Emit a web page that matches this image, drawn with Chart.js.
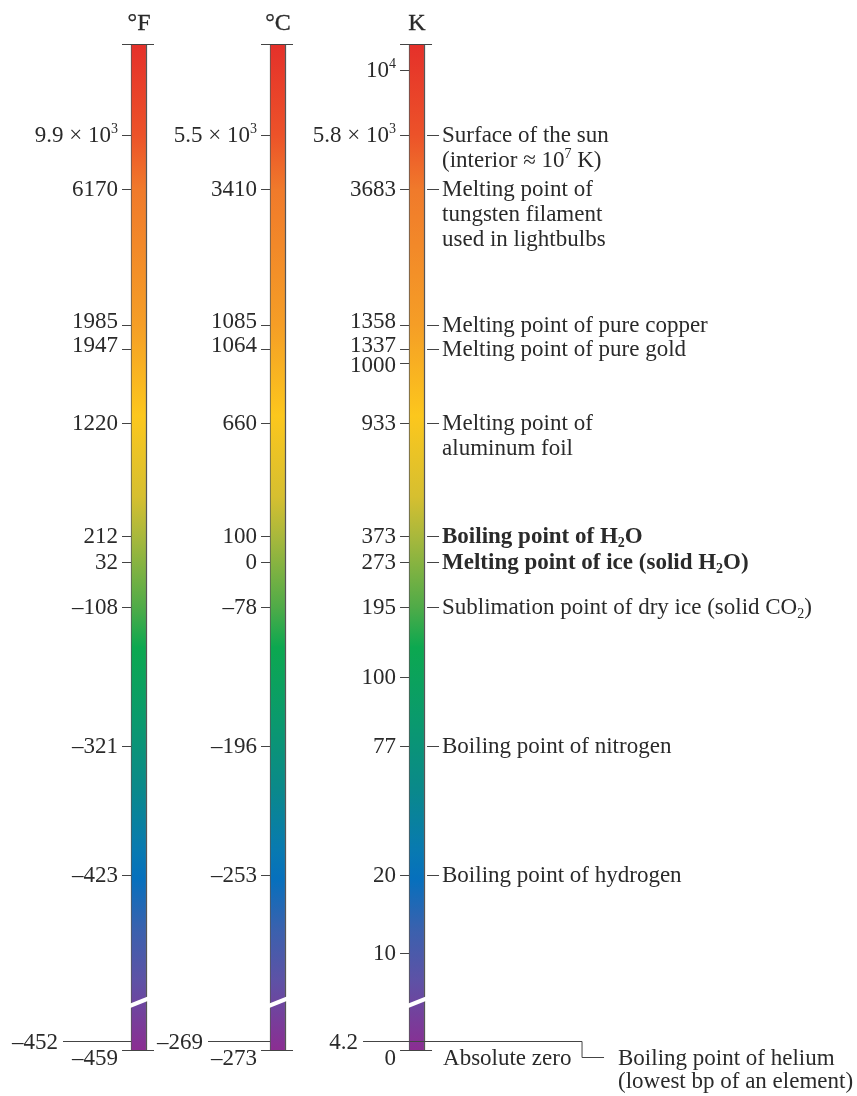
<!DOCTYPE html>
<html>
<head>
<meta charset="utf-8">
<script src="https://cdn.jsdelivr.net/npm/chart.js@4.4.1/dist/chart.umd.min.js"></script>
<style>
    html, body { margin: 0; padding: 0; background: #fff; }
    #wrap { width: 857px; height: 1096px; }
</style>
</head>
<body>
<div id="wrap"><canvas id="scaleChart" width="857" height="1096"></canvas></div>
<script>
// Columns (one bar each)
const scaleNames = ['°F', '°C', 'K'];

// Rows, top to bottom. '' = that bar has no tick on this row.
const kelvinLabels     = ['10^4', '5.8 × 10^3', '3683', '1358', '1337', '1000', '933', '373', '273', '195', '100', '77', '20', '10', '4.2', '0'];
const fahrenheitLabels = ['', '9.9 × 10^3', '6170', '1985', '1947', '', '1220', '212', '32', '–108', '', '–321', '–423', '', '–452', '–459'];
const celsiusLabels    = ['', '5.5 × 10^3', '3410', '1085', '1064', '', '660', '100', '0', '–78', '', '–196', '–253', '', '–269', '–273'];

// Where each row sits on the figure's compressed (non-linear) temperature axis, 0 = absolute zero
const rowLevel = [980, 915, 861, 725, 701, 687, 627, 514, 488, 443, 373, 304, 175, 97, 9, 0];
const barTop = 1006;     // top end of the bars on that axis
const breakLevel = 50;   // axis break drawn near the bottom

// Notes to the right of the K bar (same rows)
const notes = [
    null,
    ['Surface of the sun', '(interior ≈ 10^7 K)'],
    ['Melting point of', 'tungsten filament', 'used in lightbulbs'],
    ['Melting point of pure copper'],
    ['Melting point of pure gold'],
    null,
    ['Melting point of', 'aluminum foil'],
    ['Boiling point of H_2O'],
    ['Melting point of ice (solid H_2O)'],
    ['Sublimation point of dry ice (solid CO_2)'],
    null,
    ['Boiling point of nitrogen'],
    ['Boiling point of hydrogen'],
    null,
    ['Boiling point of helium', '(lowest bp of an element)'],
    ['Absolute zero']
];
const boldRows = [7, 8];
const HELIUM_ROW = 14;
const ZERO_ROW = 15;

// Styling
const FONT = '"Liberation Serif", "DejaVu Serif", serif';
const INK = '#2a2a2a';
const RULE = '#444';
const leaderLength = [68, 62, 46]; // helium leader length left of each bar
const labelNudge = { 3: -4, 4: -4, 5: 2 }; // crowded rows near 1000 K
const gradientStops = [
    [0.00, '#e5302a'], [0.09, '#ec5229'], [0.145, '#f07a2b'], [0.28, '#f59e26'],
    [0.37, '#fcc71d'], [0.45, '#d6bf30'], [0.49, '#a8b83c'], [0.56, '#4fab48'],
    [0.60, '#0ca850'], [0.67, '#0a9a6c'], [0.74, '#0a898a'], [0.80, '#087ab0'],
    [0.83, '#0670bd'], [0.88, '#3a61ae'], [0.93, '#5d52a6'], [1.00, '#8b2e92']
];

function splitRuns(str) {
    const runs = [];
    const re = /([\^_])(\S)/g;
    let last = 0, m;
    while ((m = re.exec(str))) {
        if (m.index > last) runs.push({ t: str.slice(last, m.index), k: 'n' });
        runs.push({ t: m[2], k: m[1] === '^' ? 'sup' : 'sub' });
        last = re.lastIndex;
    }
    if (last < str.length) runs.push({ t: str.slice(last), k: 'n' });
    return runs;
}

function drawText(ctx, str, x, y, align, opts = {}) {
    const size = opts.size || 23;
    const weight = opts.bold ? 'bold ' : '';
    const small = Math.round(size * 0.62);
    const runs = splitRuns(str);
    const fontFor = r => weight + (r.k === 'n' ? size : small) + 'px ' + FONT;
    let total = 0;
    runs.forEach(r => { ctx.font = fontFor(r); r.w = ctx.measureText(r.t).width; total += r.w; });
    let cx = align === 'right' ? x - total : align === 'center' ? x - total / 2 : x;
    const base = y + size * 0.33;
    ctx.fillStyle = INK;
    ctx.strokeStyle = INK;
    ctx.textAlign = 'left';
    ctx.textBaseline = 'alphabetic';
    runs.forEach(r => {
        ctx.font = fontFor(r);
        const dy = r.k === 'sup' ? -size * 0.36 : r.k === 'sub' ? size * 0.2 : 0;
        ctx.fillText(r.t, cx, base + dy);
        if (opts.heavy) { ctx.lineWidth = opts.heavy; ctx.strokeText(r.t, cx, base + dy); }
        cx += r.w;
    });
    ctx.strokeStyle = RULE;
    ctx.lineWidth = 1;
}

function path(ctx, pts) {
    ctx.beginPath();
    pts.forEach(([px, py], i) => {
        const yy = Math.round(py) + 0.5;
        if (i === 0) ctx.moveTo(px, yy); else ctx.lineTo(px, yy);
    });
    ctx.stroke();
}

const scaleDecor = {
    id: 'scaleDecor',
    afterDatasetsDraw(chart) {
        const { ctx, scales: { y } } = chart;
        const bars = chart.getDatasetMeta(0).data;
        const columnLabels = [fahrenheitLabels, celsiusLabels, kelvinLabels];

        ctx.save();
        ctx.strokeStyle = RULE;
        ctx.lineWidth = 1;

        bars.forEach((bar, c) => {
            const left = bar.x - bar.width / 2;
            const right = bar.x + bar.width / 2;
            const topY = y.getPixelForValue(barTop);

            drawText(ctx, scaleNames[c], bar.x, 22, 'center', { size: 24, heavy: 0.3 });
            path(ctx, [[left - 9, topY], [right + 7, topY]]);

            // axis break
            const yb = y.getPixelForValue(breakLevel);
            ctx.fillStyle = '#fff';
            ctx.beginPath();
            ctx.moveTo(left - 2, yb + 4);
            ctx.lineTo(right + 2, yb - 4);
            ctx.lineTo(right + 2, yb + 0.5);
            ctx.lineTo(left - 2, yb + 8.5);
            ctx.closePath();
            ctx.fill();

            columnLabels[c].forEach((label, r) => {
                if (!label) return;
                const py = y.getPixelForValue(rowLevel[r]);
                if (r === ZERO_ROW) {
                    path(ctx, [[left - 9, py], [right + 7, py]]);
                    drawText(ctx, label, left - 13, py + 7, 'right');
                } else if (r === HELIUM_ROW) {
                    const start = left - leaderLength[c];
                    if (c === 2) {
                        path(ctx, [[start, py], [right + 157, py], [right + 157, py + 16], [right + 179, py + 16]]);
                    } else {
                        path(ctx, [[start, py], [left, py]]);
                    }
                    drawText(ctx, label, start - 5, py, 'right');
                } else {
                    path(ctx, [[left - 9, py], [left, py]]);
                    drawText(ctx, label, left - 13, py - 1 + (labelNudge[r] || 0), 'right');
                }
            });
        });

        // notes beside the K bar
        const kBar = bars[2];
        const kRight = kBar.x + kBar.width / 2;
        notes.forEach((lines, r) => {
            if (!lines) return;
            const py = y.getPixelForValue(rowLevel[r]);
            const bold = boldRows.includes(r);
            if (r === ZERO_ROW) {
                drawText(ctx, lines[0], kRight + 18, py + 7, 'left');
            } else if (r === HELIUM_ROW) {
                lines.forEach((t, i) => drawText(ctx, t, kRight + 193, py + 16 + i * 23, 'left'));
            } else {
                path(ctx, [[kRight + 2, py], [kRight + 14, py]]);
                lines.forEach((t, i) => drawText(ctx, t, kRight + 17, py - 1 + i * 25, 'left', { bold }));
            }
        });
        ctx.restore();
    }
};

new Chart(document.getElementById('scaleChart'), {
    type: 'bar',
    data: {
        datasets: [{
            data: scaleNames.map((name, i) => ({ x: i, y: [0, barTop] })),
            barThickness: 16,
            borderColor: '#555',
            borderWidth: { left: 1, right: 1.5, top: 0, bottom: 0 },
            borderSkipped: false,
            backgroundColor: (context) => {
                const { ctx, chartArea, scales } = context.chart;
                if (!chartArea) return '#e5302a';
                const g = ctx.createLinearGradient(0, scales.y.getPixelForValue(barTop), 0, scales.y.getPixelForValue(0));
                gradientStops.forEach(([p, col]) => g.addColorStop(p, col));
                return g;
            }
        }]
    },
    options: {
        responsive: false,
        animation: false,
        events: [],
        layout: { padding: 0 },
        scales: {
            x: { type: 'linear', min: -1, max: 5.165, offset: false, display: false },
            y: { type: 'linear', min: -46, max: 1050, display: false }
        },
        plugins: {
            legend: { display: false },
            tooltip: { enabled: false }
        }
    },
    plugins: [scaleDecor]
});
</script>
</body>
</html>
